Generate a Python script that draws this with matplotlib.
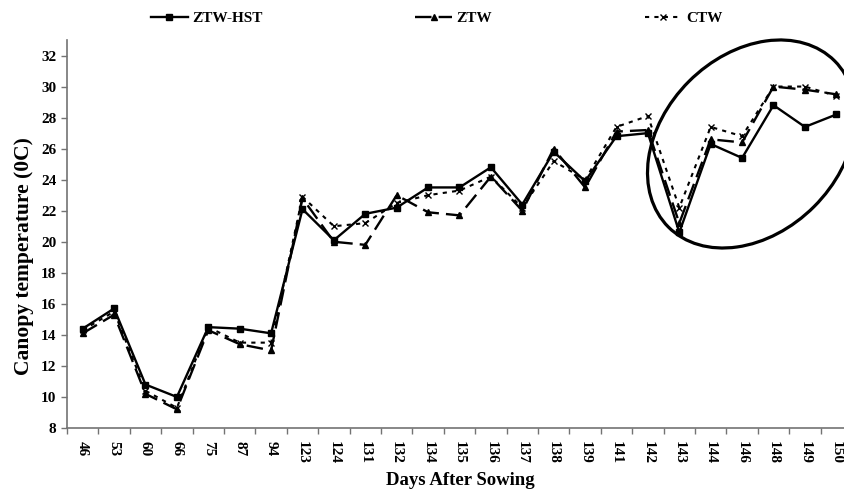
import numpy as np
import matplotlib
matplotlib.use("Agg")
import matplotlib.pyplot as plt
from matplotlib.patches import Ellipse
from matplotlib.transforms import ScaledTranslation

plt.rcParams['font.family'] = ['Liberation Serif', 'DejaVu Serif']
plt.rcParams['font.weight'] = 'bold'

days = ['46', '53', '60', '66', '75', '87', '94', '123', '124', '131', '132', '134',
        '135', '136', '137', '138', '139', '141', '142', '143', '144', '146', '148',
        '149', '150']

ztw_hst = [14.4, 15.7, 10.8, 10.0, 14.5, 14.4, 14.1, 22.1, 20.1, 21.8, 22.2, 23.5,
           23.5, 24.8, 22.4, 25.8, 23.9, 26.8, 27.0, 20.6, 26.3, 25.4, 28.8, 27.4, 28.2]
ztw = [14.1, 15.3, 10.2, 9.2, 14.3, 13.4, 13.0, 22.8, 20.0, 19.8, 23.0, 21.9,
       21.7, 24.2, 22.0, 26.0, 23.5, 27.1, 27.2, 21.2, 26.6, 26.4, 30.0, 29.8, 29.5]
ctw = [14.3, 15.5, 10.4, 9.3, 14.5, 13.5, 13.5, 22.9, 21.0, 21.2, 22.5, 23.0,
       23.3, 24.2, 22.2, 25.2, 24.0, 27.4, 28.1, 22.2, 27.4, 26.8, 30.0, 30.0, 29.4]

x = np.arange(len(days))

fig = plt.figure(figsize=(8.45, 4.9), dpi=100)
ax = fig.add_axes([67/845, 62/490, 785/845, 388/490])

ax.plot(x, ztw_hst, color='black', lw=1.7, marker='s', ms=4.5, label='ZTW-HST')
ax.plot(x, ztw, color='black', lw=1.7, dashes=(7, 3), marker='^', ms=5, label='ZTW')
ax.plot(x, ctw, color='black', lw=1.5, dashes=(2, 2.5), marker='x', ms=4.5,
        mew=1.0, label='CTW')

ax.set_xlim(-0.5, len(days) - 0.5)
ax.set_ylim(8, 33)
ax.set_yticks(np.arange(8, 33, 2))
ax.set_xticks(x)
ax.set_xticklabels(days, rotation=270, fontsize=11)
ax.set_xticks(np.arange(-0.5, len(days), 1), minor=True)
ax.tick_params(axis='x', which='major', length=0, pad=9)
ax.tick_params(axis='x', which='minor', length=4, color='0.45', width=1)
ax.tick_params(axis='y', length=4, color='0.45', width=1, labelsize=11)

for s in ['top', 'right']:
    ax.spines[s].set_visible(False)
for s in ['left', 'bottom']:
    ax.spines[s].set_color('0.45')
    ax.spines[s].set_linewidth(1.2)

fig.text(460/845, 1 - 480/490, 'Days After Sowing', fontsize=13.5,
         fontweight='bold', ha='center', va='center')
fig.text(24/845, 1 - 256/490, 'Canopy temperature (0C)', fontsize=15.5,
         fontweight='bold', ha='center', va='center', rotation=90)

# ellipse highlighting the last days
trans = fig.dpi_scale_trans + ScaledTranslation(21.3, 26.3, ax.transData)
ax.add_patch(Ellipse((0, 0), 2.35, 1.77, angle=45, fill=False, lw=2.3,
                     edgecolor='black', transform=trans, clip_on=False))

fig.legend(loc='center', bbox_to_anchor=(0.517, 0.963), ncol=3, frameon=False,
           handlelength=2.4, handletextpad=0.3, columnspacing=10, fontsize=11)

fig.savefig('out.png', dpi=100)
